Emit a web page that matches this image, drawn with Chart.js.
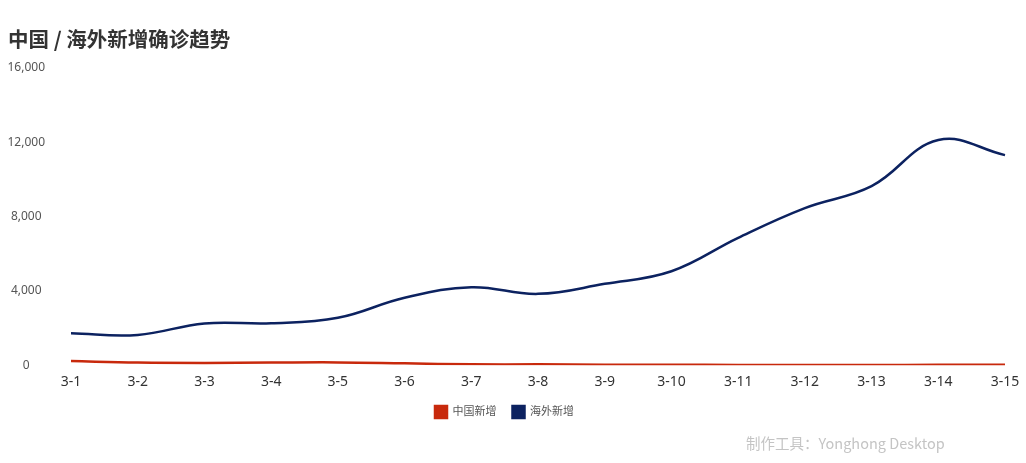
<!DOCTYPE html>
<html>
<head>
<meta charset="utf-8">
<script src="https://cdn.jsdelivr.net/npm/chart.js@4"></script>
<style>
  body { margin: 0; background: #fff; }
  #wrap { position: relative; width: 1026px; height: 463px; }
  #title { position: absolute; left: 8px; top: 23px; font: bold 20.5px "Noto Sans CJK SC", sans-serif; color: #333; }
  #mark { position: absolute; left: 746px; top: 432px; font: 14.5px "Noto Sans CJK SC", "Noto Sans", sans-serif; color: #c4c4c4; }
</style>
</head>
<body>
<div id="wrap">
  <canvas id="grafico" width="1026" height="463"></canvas>
  <div id="title">中国 / 海外新增确诊趋势</div>
  <div id="mark">制作工具：Yonghong Desktop</div>
</div>
<script>
// dados do gráfico
var days = ['3-1', '3-2', '3-3', '3-4', '3-5', '3-6', '3-7', '3-8', '3-9', '3-10', '3-11', '3-12', '3-13', '3-14', '3-15'];
var chinaNew = [220, 140, 120, 140, 150, 100, 45, 45, 20, 25, 15, 10, 10, 20, 20];
var abroadNew = [1720, 1630, 2250, 2260, 2550, 3630, 4200, 3840, 4380, 5060, 6860, 8460, 9640, 12120, 11310];
var yTicks = [0, 4000, 8000, 12000, 16000];

var font = '"Noto Sans", "Noto Sans CJK SC", sans-serif';

var data = {
    labels: days,
    datasets: [{
        label: '中国新增',
        data: chinaNew,
        borderColor: '#c8290c',
        backgroundColor: '#c8290c',
        borderWidth: 2.5,
        pointRadius: 0,
        tension: 0.4
    },
    {
        label: '海外新增',
        data: abroadNew,
        borderColor: '#0c2260',
        backgroundColor: '#0c2260',
        borderWidth: 2.5,
        pointRadius: 0,
        tension: 0.4
    }]
};

var options = {
    responsive: false,
    animation: false,
    layout: { padding: { left: 4, right: 21, top: 68, bottom: 35 } },
    plugins: {
        legend: {
            position: 'bottom',
            labels: {
                boxWidth: 12, boxHeight: 12, padding: 16,
                color: '#555', font: { family: font, size: 11 }
            }
        },
        tooltip: { enabled: false }
    },
    scales: {
        x: {
            grid: { display: false },
            border: { display: false },
            ticks: { color: '#333', font: { family: font, size: 14 }, maxRotation: 0, padding: 0 }
        },
        y: {
            min: 0, max: 16000,
            afterBuildTicks: function (s) { s.ticks = yTicks.map(function (v) { return { value: v }; }); },
            afterFit: function (s) { s.width = 67; },
            grid: { display: false },
            border: { display: false },
            ticks: {
                crossAlign: 'center', padding: 18,
                color: '#555', font: { family: font, size: 12 },
                callback: function (v) { return v.toLocaleString('en-US'); }
            }
        }
    }
};

var ctx = document.querySelector('#grafico').getContext('2d');
var lineChart = new Chart(ctx, { type: 'line', data: data, options: options });
</script>
</body>
</html>
